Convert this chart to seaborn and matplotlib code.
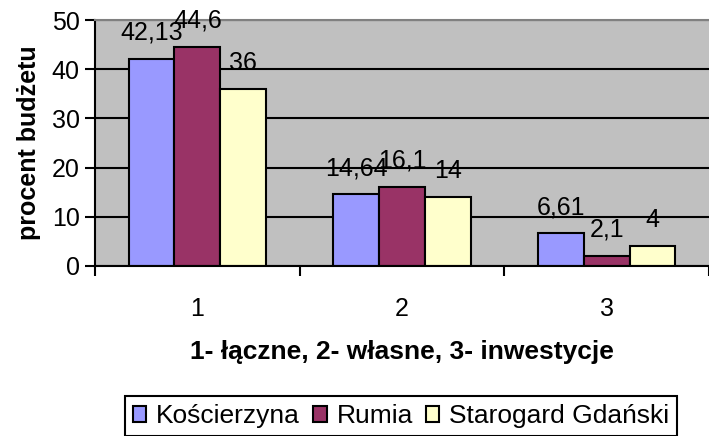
import numpy as np
import pandas as pd
import matplotlib
matplotlib.use("Agg")
import matplotlib.pyplot as plt
import seaborn as sns

# data
categories = ["1", "2", "3"]
kosc = [42.13, 14.64, 6.61]
rumia = [44.6, 16.1, 2.1]
starogard = [36, 14, 4]
series_names = ["Kościerzyna", "Rumia", "Starogard Gdański"]
colors = ["#9999FF", "#993366", "#FFFFCC"]

df = pd.DataFrame({
    "kat": categories * 3,
    "miasto": [series_names[0]] * 3 + [series_names[1]] * 3 + [series_names[2]] * 3,
    "wartosc": kosc + rumia + starogard,
})

sns.set_style("white")
plt.rcParams["font.family"] = ["Liberation Sans", "DejaVu Sans"]
plt.rcParams["text.color"] = "black"
plt.rcParams["xtick.color"] = "black"
plt.rcParams["ytick.color"] = "black"
plt.rcParams["axes.labelcolor"] = "black"

fig = plt.figure(figsize=(7.09, 4.36), dpi=100)
ax = fig.add_axes([0.134, 0.39, 0.866, 0.564])
ax.set_facecolor("#C0C0C0")

sns.barplot(data=df, x="kat", y="wartosc", hue="miasto", palette=colors,
            width=0.67, edgecolor="black", linewidth=1.5, saturation=1,
            ax=ax, legend=True)

for cont in ax.containers:
    labels = [f"{v:g}".replace(".", ",") for v in cont.datavalues]
    ax.bar_label(cont, labels=labels, padding=10, fontsize=18, color="black")

ax.set_ylim(0, 50)
ax.set_xlim(-0.5, 2.5)
ax.set_yticks([0, 10, 20, 30, 40, 50])
ax.yaxis.grid(True, color="black", linewidth=1.5)
ax.set_axisbelow(True)
ax.tick_params(axis="y", length=7, width=1.5, pad=4, labelsize=18, direction="out", left=True)
ax.set_xticks([-0.5, 0.5, 1.5, 2.5], minor=True)
ax.tick_params(axis="x", which="minor", length=7, width=1.5, direction="out", bottom=True)
ax.tick_params(axis="x", which="major", length=0, pad=22, labelsize=18)

for s in ["left", "bottom"]:
    ax.spines[s].set_color("black")
    ax.spines[s].set_linewidth(1.5)
ax.spines["top"].set_color("#808080")
ax.spines["top"].set_linewidth(1.5)
ax.spines["right"].set_visible(False)

ax.set_ylabel("procent budżetu", fontsize=18, fontweight="bold", labelpad=8)
ax.set_xlabel("1- łączne, 2- własne, 3- inwestycje", fontsize=19, fontweight="bold", labelpad=14)

leg = ax.legend(loc="center", bbox_to_anchor=(0.566, 0.045), bbox_transform=fig.transFigure,
                ncol=3, fontsize=19, frameon=True, fancybox=False, edgecolor="black",
                framealpha=1, handlelength=0.5, handleheight=0.5, handletextpad=0.38,
                columnspacing=0.5, borderpad=0.3)
leg.get_frame().set_linewidth(1.5)
for h in leg.legend_handles:
    h.set_edgecolor("black")
    h.set_linewidth(1.5)

fig.savefig("out.png", dpi=100)
